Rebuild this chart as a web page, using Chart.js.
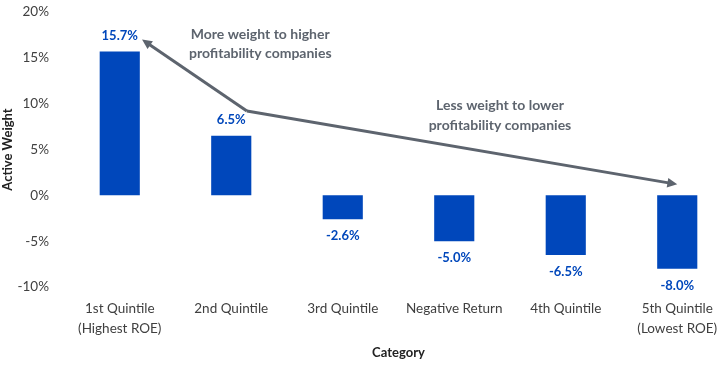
<!DOCTYPE html>
<html>
<head>
<meta charset="utf-8">
<script src="https://cdn.jsdelivr.net/npm/chart.js@4/dist/chart.umd.min.js"></script>
<style>
  html, body { margin: 0; padding: 0; background: #fff; }
  .wrap { width: 717px; height: 365px; overflow: hidden; position: relative; }
  .box { width: 745px; height: 365px; position: absolute; left: 0; top: 0; }
</style>
</head>
<body>
<div class="wrap"><div class="box"><canvas id="activeChart"></canvas></div></div>
<script>
const categories = [
  ['1st Quintile', '(Highest ROE)'],
  '2nd Quintile',
  '3rd Quintile',
  'Negative Return',
  '4th Quintile',
  ['5th Quintile', '(Lowest ROE)']
]
const activeWeight = [15.7, 6.5, -2.6, -5.0, -6.5, -8.0]
const yTicks = [-10, -5, 0, 5, 10, 15, 20]

// annotation anchors in data units: [category index, value]
const arrowStart = [1.14, 9.2]
const arrowUpEnd = [0.2, 17.0]
const arrowDownEnd = [5.0, 1.2]
const noteUp = { x: 1.26, y: [17.6, 15.5], text: ['More weight to higher', 'profitability companies'] }
const noteDown = { x: 3.41, y: [9.8, 7.6], text: ['Less weight to lower', 'profitability companies'] }

const blue = '#0047bb'
const gray = '#5d646e'
const fontFam = 'Lato, "Open Sans", sans-serif'

const labelsAndArrows = {
  id: 'labelsAndArrows',
  afterDatasetsDraw(chart) {
    const ctx = chart.ctx
    const xs = chart.scales.x
    const ys = chart.scales.y
    const meta = chart.getDatasetMeta(0)

    ctx.save()
    ctx.font = 'bold 13px ' + fontFam
    ctx.fillStyle = blue
    ctx.textAlign = 'center'
    ctx.textBaseline = 'middle'
    meta.data.forEach((bar, i) => {
      const v = activeWeight[i]
      const y = v >= 0 ? bar.y - 16 : bar.y + 17
      ctx.fillText(v.toFixed(1) + '%', bar.x, y)
    })

    // arrows
    const px = (p) => [xs.getPixelForValue(p[0]), ys.getPixelForValue(p[1])]
    const drawArrow = (from, to) => {
      const [x1, y1] = px(from)
      const [x2, y2] = px(to)
      const ang = Math.atan2(y2 - y1, x2 - x1)
      const head = 11
      ctx.strokeStyle = gray
      ctx.fillStyle = gray
      ctx.lineWidth = 3
      ctx.beginPath()
      ctx.moveTo(x1, y1)
      ctx.lineTo(x2 - Math.cos(ang) * head * 0.8, y2 - Math.sin(ang) * head * 0.8)
      ctx.stroke()
      ctx.beginPath()
      ctx.moveTo(x2, y2)
      ctx.lineTo(x2 - head * Math.cos(ang - 0.45), y2 - head * Math.sin(ang - 0.45))
      ctx.lineTo(x2 - head * Math.cos(ang + 0.45), y2 - head * Math.sin(ang + 0.45))
      ctx.closePath()
      ctx.fill()
    }
    drawArrow(arrowStart, arrowUpEnd)
    drawArrow(arrowStart, arrowDownEnd)

    ctx.font = 'bold 14px ' + fontFam
    ctx.fillStyle = gray
    ;[noteUp, noteDown].forEach((n) => {
      n.text.forEach((t, k) => {
        ctx.fillText(t, xs.getPixelForValue(n.x), ys.getPixelForValue(n.y[k]))
      })
    })
    ctx.restore()
  }
}

new Chart(document.getElementById('activeChart').getContext('2d'), {
  type: 'bar',
  data: {
    labels: categories,
    datasets: [{
      label: 'Active Weight',
      data: activeWeight,
      backgroundColor: blue,
      borderWidth: 0,
      barPercentage: 0.36,
      categoryPercentage: 1
    }]
  },
  options: {
    responsive: true,
    maintainAspectRatio: false,
    animation: false,
    layout: { autoPadding: false, padding: { top: 12, right: 12, left: 0, bottom: 0 } },
    plugins: {
      legend: { display: false },
      tooltip: { enabled: false }
    },
    scales: {
      x: {
        grid: { display: false, drawTicks: false },
        border: { display: false },
        ticks: {
          color: '#404040',
          font: { family: fontFam, size: 13.5, lineHeight: 1.48 },
          padding: 12,
          maxRotation: 0,
          autoSkip: false
        },
        title: {
          display: true,
          text: 'Category',
          color: '#222',
          font: { family: fontFam, size: 13, weight: 'bold' },
          padding: { top: 0, bottom: 4 }
        },
        afterFit: (s) => { s.height = 78 }
      },
      y: {
        min: -10,
        max: 20,
        afterBuildTicks: (s) => { s.ticks = yTicks.map((v) => ({ value: v })) },
        grid: { display: false, drawTicks: false },
        border: { display: false },
        ticks: {
          color: '#404040',
          font: { family: fontFam, size: 13.5 },
          padding: 15,
          callback: (v) => v + '%'
        },
        title: {
          display: true,
          text: 'Active Weight',
          color: '#222',
          font: { family: fontFam, size: 13, weight: 'bold' },
          padding: { top: 0, bottom: 0 }
        },
        afterFit: (s) => {
          s.width = 64
          s.paddingTop = 0
          s.paddingBottom = 0
        }
      }
    }
  },
  plugins: [labelsAndArrows]
})
</script>
</body>
</html>
